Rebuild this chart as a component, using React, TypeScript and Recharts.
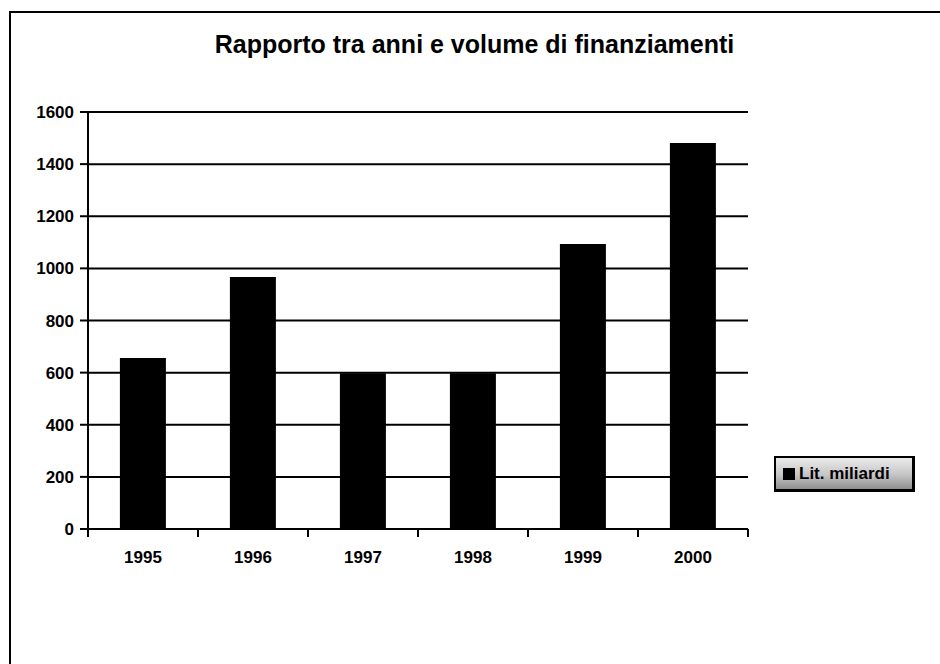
import React from 'react';
import { BarChart, Bar, XAxis, YAxis, CartesianGrid } from 'recharts';

const chartTitle = 'Rapporto tra anni e volume di finanziamenti';
const seriesName = 'Lit. miliardi';
const years = ['1995', '1996', '1997', '1998', '1999', '2000'];
const values = [656, 967, 598, 598, 1094, 1481];
const yTicks = [0, 200, 400, 600, 800, 1000, 1200, 1400, 1600];

const data = years.map((year, i) => ({ year, value: values[i] }));

const FONT = '"Liberation Sans", Arial, Helvetica, sans-serif';
const X_TICK_SIZE = 8;
const X_TICK_MARGIN = 14;

const XTick = (props: any) => {
  const { x, y, payload, index, visibleTicksCount, width } = props;
  const half =
    payload && typeof payload.offset === 'number' && payload.offset > 0
      ? payload.offset
      : width / (2 * (visibleTicksCount || 1));
  const axisY = y - X_TICK_SIZE - X_TICK_MARGIN;
  const isLast = index === (visibleTicksCount || 0) - 1;
  return (
    <g>
      <line x1={x - half} x2={x - half} y1={axisY} y2={axisY + X_TICK_SIZE} stroke="#000" strokeWidth={2} />
      {isLast && (
        <line x1={x + half} x2={x + half} y1={axisY} y2={axisY + X_TICK_SIZE} stroke="#000" strokeWidth={2} />
      )}
      <text
        x={x}
        y={y}
        dy="0.71em"
        textAnchor="middle"
        fill="#000"
        fontFamily={FONT}
        fontWeight="bold"
        fontSize={17}
      >
        {payload.value}
      </text>
    </g>
  );
};

export default function App() {
  return (
    <div
      style={{
        position: 'absolute',
        left: 0,
        top: 0,
        width: 940,
        height: 664,
        overflow: 'hidden',
        background: '#fff',
      }}
    >
      <div
        style={{
          position: 'absolute',
          left: 9,
          top: 11,
          width: 940,
          height: 700,
          border: '2px solid #000',
          boxSizing: 'border-box',
        }}
      />
      <div
        style={{
          position: 'absolute',
          left: 0,
          top: 32,
          width: 949,
          textAlign: 'center',
          fontFamily: FONT,
          fontWeight: 'bold',
          fontSize: 25,
          lineHeight: '25px',
          color: '#000',
        }}
      >
        {chartTitle}
      </div>
      <div style={{ position: 'absolute', left: 0, top: 0 }}>
        <BarChart
          width={940}
          height={664}
          data={data}
          margin={{ top: 112, right: 192, bottom: 95, left: 0 }}
          barCategoryGap="29%"
        >
          <CartesianGrid vertical={false} stroke="#000" strokeWidth={2} />
          <XAxis
            dataKey="year"
            type="category"
            height={40}
            tickLine={false}
            axisLine={{ stroke: '#000', strokeWidth: 2 }}
            tickSize={X_TICK_SIZE}
            tickMargin={X_TICK_MARGIN}
            tick={<XTick />}
            interval={0}
          />
          <YAxis
            type="number"
            domain={[0, 1600]}
            ticks={yTicks}
            interval={0}
            width={88}
            axisLine={{ stroke: '#000', strokeWidth: 2 }}
            tickLine={{ stroke: '#000', strokeWidth: 2 }}
            tickSize={8}
            tickMargin={6}
            tick={{ fill: '#000', fontFamily: FONT, fontWeight: 'bold', fontSize: 17 }}
          />
          <Bar dataKey="value" name={seriesName} fill="#000" isAnimationActive={false} />
        </BarChart>
      </div>
      <div
        style={{
          position: 'absolute',
          left: 774,
          top: 456,
          width: 141,
          height: 36,
          boxSizing: 'border-box',
          border: '2px solid #000',
          borderRightWidth: 3,
          borderBottomWidth: 3,
          background: 'linear-gradient(to bottom, #ececec 0%, #c4c4c4 55%, #8e8e8e 100%)',
          display: 'flex',
          alignItems: 'center',
          paddingLeft: 7,
          fontFamily: FONT,
          fontWeight: 'bold',
          fontSize: 17,
          color: '#000',
          whiteSpace: 'nowrap',
        }}
      >
        <span
          style={{
            display: 'inline-block',
            width: 12,
            height: 12,
            background: '#000',
            marginRight: 4,
          }}
        />
        {seriesName}
      </div>
    </div>
  );
}
